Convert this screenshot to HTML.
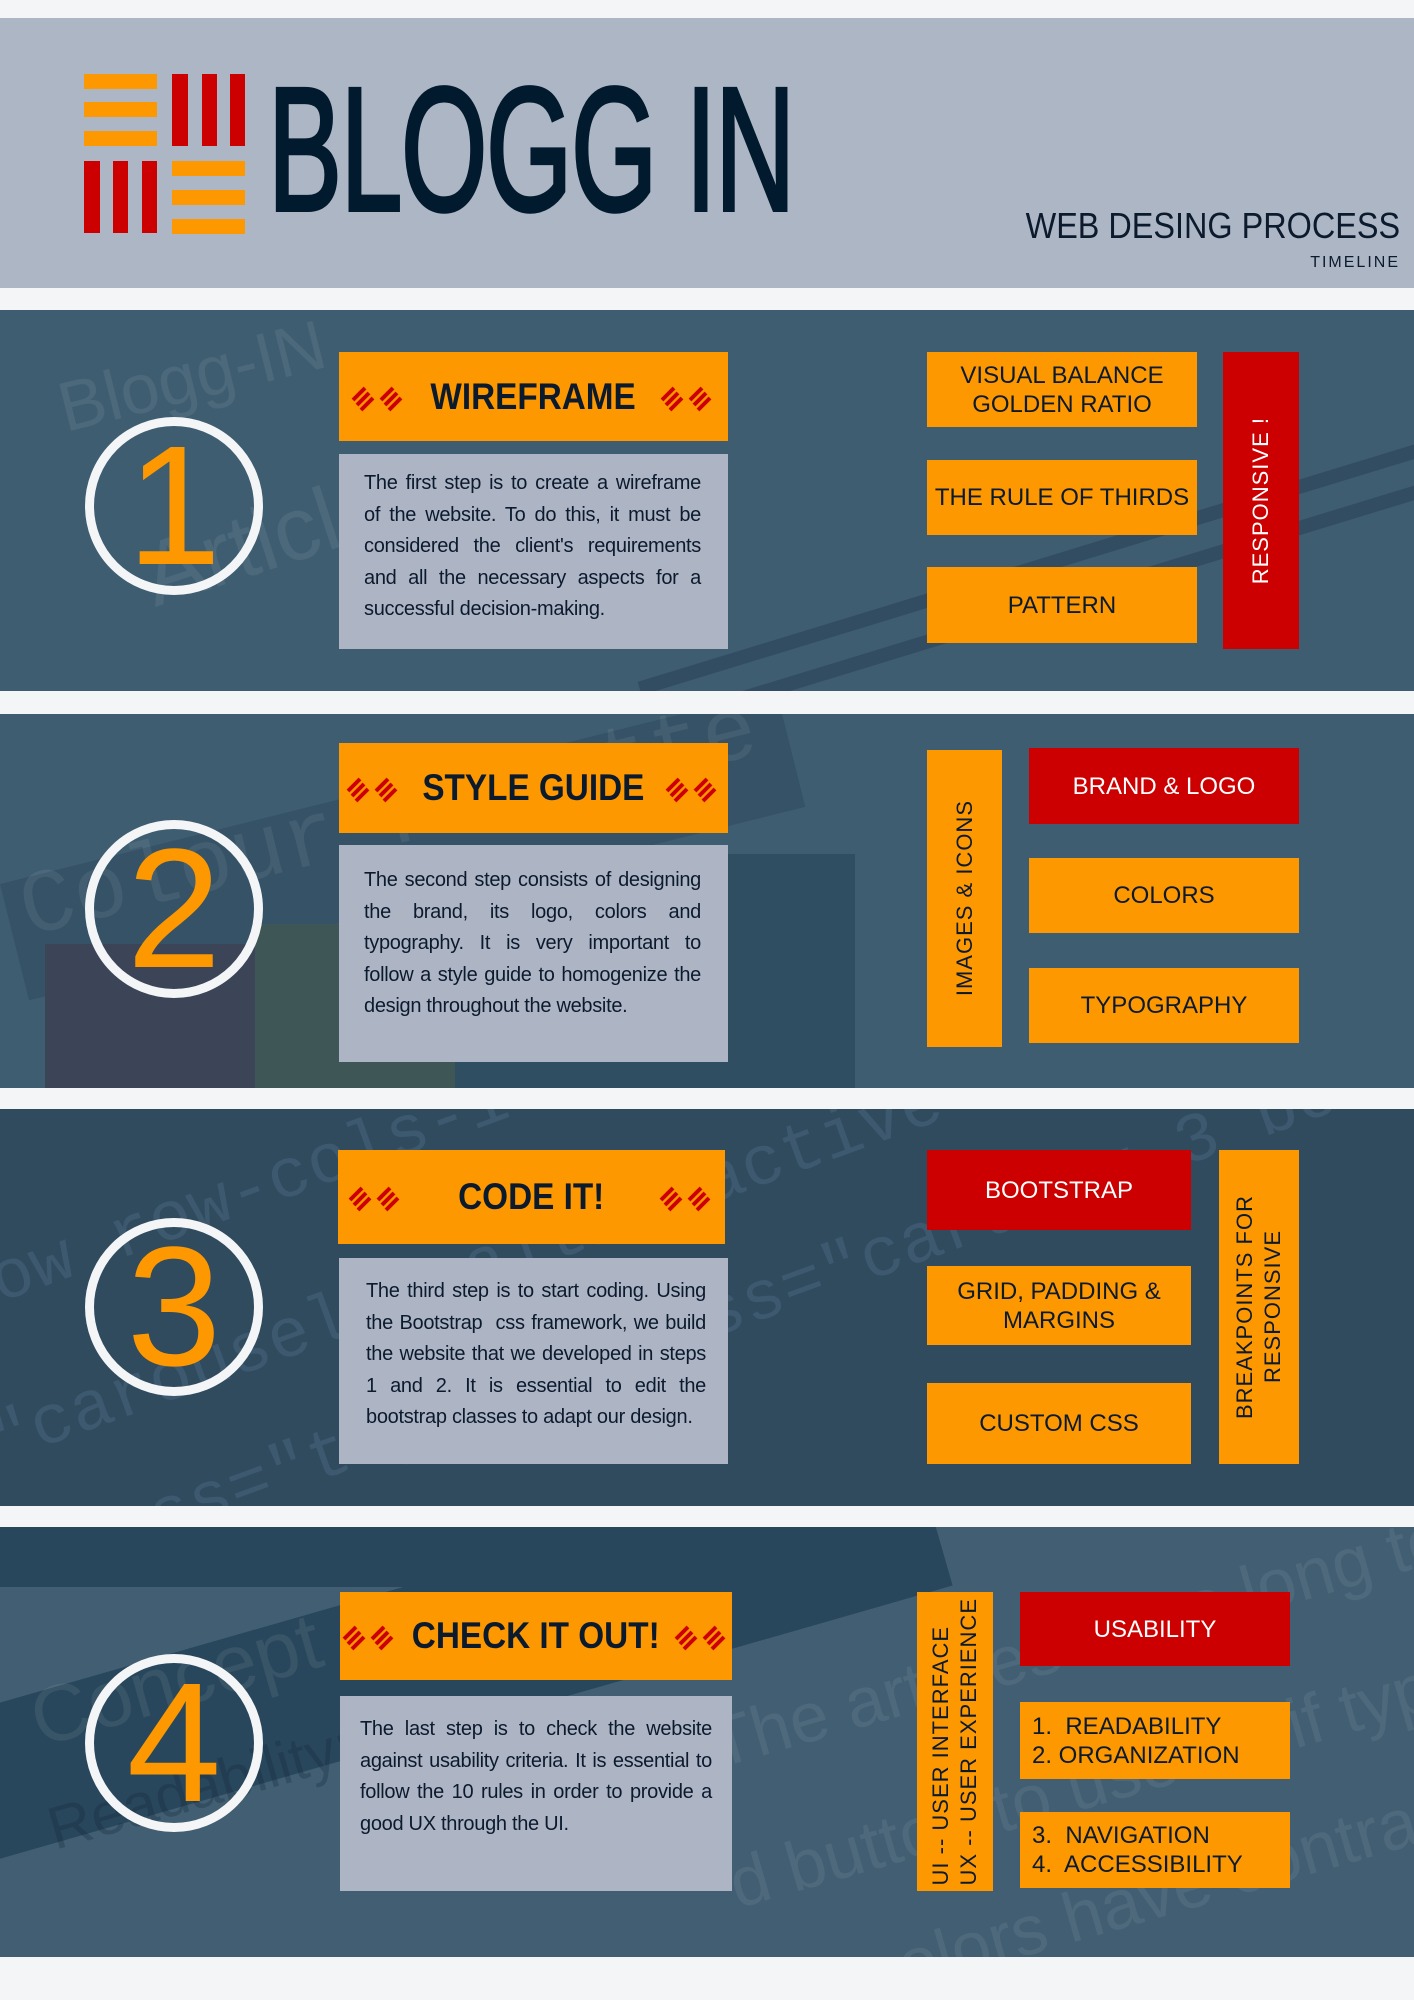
<!DOCTYPE html>
<html><head><meta charset="utf-8"><style>
*{margin:0;padding:0;box-sizing:border-box}
body{width:1414px;height:2000px;background:#f3f5f7;position:relative;overflow:hidden;font-family:"Liberation Sans",sans-serif}
.a{position:absolute}
.hdr{left:0;top:18px;width:1414px;height:270px;background:#adb6c4}
.sec{left:0;width:1414px;overflow:hidden;background:#3f5d71}
.o{background:#fd9800}.r{background:#cc0000}
.bx{display:flex;align-items:center;justify-content:center;text-align:center;font-size:24px;color:#0c1a2e;line-height:29px}
.r.bx{color:#fff}
.ttl{display:flex;align-items:center;justify-content:center;font-weight:bold;font-size:37px;color:#0c1a2e;background:#fd9800;white-space:nowrap}
.ttl span{display:inline-block;transform:scaleX(0.9)}
.txt{background:#adb5c4;color:#0c1a2e;font-size:20px;line-height:31.5px;padding:14px 27px 0 25px;text-align:justify;letter-spacing:-0.3px}
.circ{width:178px;height:178px;border:9px solid #f3f5f7;border-radius:50%;display:flex;align-items:center;justify-content:center;color:#fd9800;font-size:170px;line-height:1}
.vt{writing-mode:vertical-rl;transform:rotate(180deg);font-size:22px;letter-spacing:1px;line-height:28px}
.wm{position:absolute;color:rgba(255,255,255,0.07);font-size:70px;white-space:nowrap;transform-origin:left top}
.ic{display:inline-block;width:56px;height:34px;margin:0 6px;flex:none}
</style></head><body>
<div class="a hdr"></div>
<div class="a o" style="left:84px;top:74px;width:73px;height:15px"></div>
<div class="a o" style="left:84px;top:102px;width:73px;height:15px"></div>
<div class="a o" style="left:84px;top:131px;width:73px;height:15px"></div>
<div class="a r" style="left:172px;top:74px;width:16px;height:72px"></div>
<div class="a r" style="left:202px;top:74px;width:15px;height:72px"></div>
<div class="a r" style="left:230px;top:74px;width:15px;height:72px"></div>
<div class="a r" style="left:84px;top:161px;width:16px;height:72px"></div>
<div class="a r" style="left:113px;top:161px;width:15px;height:72px"></div>
<div class="a r" style="left:142px;top:161px;width:15px;height:72px"></div>
<div class="a o" style="left:172px;top:161px;width:73px;height:15px"></div>
<div class="a o" style="left:172px;top:190px;width:73px;height:15px"></div>
<div class="a o" style="left:172px;top:219px;width:73px;height:15px"></div>
<div class="a" style="left:268px;top:62px;font-size:176px;line-height:176px;color:#021a2e;transform:scaleX(0.63);transform-origin:left top;letter-spacing:-2px;white-space:nowrap;-webkit-text-stroke:4px #021a2e">BLOGG IN</div>
<div class="a" style="right:14px;top:205px;font-size:36px;color:#0c1a2e;white-space:nowrap;transform:scaleX(0.9);transform-origin:right top">WEB DESING PROCESS</div>
<div class="a" style="right:14px;top:254px;font-size:16px;letter-spacing:2px;color:#0c1a2e">TIMELINE</div>

<svg width="0" height="0" style="position:absolute"><defs>
<g id="st"><g stroke="#cc0000" stroke-width="4"><line x1="2" y1="20" x2="14" y2="8"/><line x1="6" y1="25" x2="18" y2="13"/><line x1="10" y1="30" x2="22" y2="18"/><line x1="30" y1="20" x2="42" y2="8"/><line x1="34" y1="25" x2="46" y2="13"/><line x1="38" y1="30" x2="50" y2="18"/></g></g>
</defs></svg>

<!-- SECTION 1 -->
<div class="a sec" style="top:310px;height:381px">
<div class="wm" style="left:50px;top:60px;transform:rotate(-14deg)">Blogg-IN</div>
<div class="wm" style="left:130px;top:220px;font-size:90px;transform:rotate(-18deg)">Article o</div>
<div class="a" style="left:620px;top:240px;width:900px;height:14px;background:rgba(20,40,60,0.3);transform:rotate(-17deg)"></div>
<div class="a" style="left:640px;top:275px;width:900px;height:14px;background:rgba(20,40,60,0.3);transform:rotate(-17deg)"></div>
</div>
<div class="a circ" style="left:85px;top:417px">1</div>
<div class="a ttl" style="left:339px;top:352px;width:389px;height:89px"><svg class="ic" viewBox="0 0 56 34"><use href="#st"/></svg><span style="margin:0 6px">WIREFRAME</span><svg class="ic" viewBox="0 0 56 34"><use href="#st"/></svg></div>
<div class="a txt" style="left:339px;top:454px;width:389px;height:195px">The first step is to create a wireframe of the website. To do this, it must be considered the client's requirements and all the necessary aspects for a successful decision-making.</div>
<div class="a o bx" style="left:927px;top:352px;width:270px;height:75px">VISUAL BALANCE<br>GOLDEN RATIO</div>
<div class="a o bx" style="left:927px;top:460px;width:270px;height:75px">THE RULE OF THIRDS</div>
<div class="a o bx" style="left:927px;top:567px;width:270px;height:76px">PATTERN</div>
<div class="a r bx" style="left:1223px;top:352px;width:76px;height:297px"><span class="vt" style="color:#fff">RESPONSIVE !</span></div>

<!-- SECTION 2 -->
<div class="a sec" style="top:714px;height:374px">
<div class="a" style="left:0;width:800px;height:120px;background:rgba(30,55,75,0.3);transform:rotate(-14deg);transform-origin:left top;top:170px"></div>
<div class="wm" style="left:10px;top:150px;font-size:90px;transform:rotate(-14deg);font-family:'Liberation Mono',monospace">Colour Palette</div>
<div class="a" style="left:45px;top:230px;width:210px;height:150px;background:#3b4557"></div>
<div class="a" style="left:255px;top:210px;width:200px;height:170px;background:#3f5656"></div>
<div class="a" style="left:455px;top:140px;width:400px;height:240px;background:#2f4e62"></div>
</div>
<div class="a circ" style="left:85px;top:820px">2</div>
<div class="a ttl" style="left:339px;top:743px;width:389px;height:90px"><svg class="ic" viewBox="0 0 56 34"><use href="#st"/></svg><span style="margin:0 2px">STYLE GUIDE</span><svg class="ic" viewBox="0 0 56 34"><use href="#st"/></svg></div>
<div class="a txt" style="left:339px;top:845px;width:389px;height:217px;padding-top:20px">The second step consists of designing the brand, its logo, colors and typography. It is very important to follow a style guide to homogenize the design throughout the website.</div>
<div class="a o bx" style="left:927px;top:750px;width:75px;height:297px"><span class="vt">IMAGES &amp; ICONS</span></div>
<div class="a r bx" style="left:1029px;top:748px;width:270px;height:76px">BRAND &amp; LOGO</div>
<div class="a o bx" style="left:1029px;top:858px;width:270px;height:75px">COLORS</div>
<div class="a o bx" style="left:1029px;top:968px;width:270px;height:75px">TYPOGRAPHY</div>

<!-- SECTION 3 -->
<div class="a sec" style="top:1109px;height:397px;background:#304a5e">
<div class="wm" style="left:-20px;top:140px;transform:rotate(-20deg);font-family:'Liberation Mono',monospace;color:rgba(120,160,190,0.18)">ow row-cols-1 row-cols-md-2 col carousel slide</div>
<div class="wm" style="left:-20px;top:300px;transform:rotate(-20deg);font-family:'Liberation Mono',monospace;color:rgba(120,160,190,0.18)">"carousel Health" active"</div>
<div class="wm" style="left:20px;top:420px;transform:rotate(-20deg);font-family:'Liberation Mono',monospace;color:rgba(120,160,190,0.18)">class="topic" class="card mx-3 border-0</div>
</div>
<div class="a circ" style="left:85px;top:1218px">3</div>
<div class="a ttl" style="left:338px;top:1150px;width:387px;height:94px;justify-content:space-between;padding:0 4px"><svg class="ic" viewBox="0 0 56 34"><use href="#st"/></svg><span>CODE IT!</span><svg class="ic" viewBox="0 0 56 34"><use href="#st"/></svg></div>
<div class="a txt" style="left:339px;top:1258px;width:389px;height:206px;padding:18px 22px 0 27px">The third step is to start coding. Using the Bootstrap &nbsp;css framework, we build the website that we developed in steps 1 and 2. It is essential to edit the bootstrap classes to adapt our design.</div>
<div class="a r bx" style="left:927px;top:1150px;width:264px;height:80px">BOOTSTRAP</div>
<div class="a o bx" style="left:927px;top:1266px;width:264px;height:79px">GRID, PADDING &amp;<br>MARGINS</div>
<div class="a o bx" style="left:927px;top:1383px;width:264px;height:81px">CUSTOM CSS</div>
<div class="a o bx" style="left:1219px;top:1150px;width:80px;height:314px"><span class="vt">BREAKPOINTS FOR<br>RESPONSIVE</span></div>

<!-- SECTION 4 -->
<div class="a sec" style="top:1527px;height:430px;background:#415e72">
<div class="a" style="left:-50px;width:1000px;height:150px;background:#29475c;transform:rotate(-16deg);transform-origin:left top;top:190px"></div>
<div class="a" style="left:0;top:0;width:700px;height:60px;background:#29475c"></div>
<div class="wm" style="left:20px;top:150px;font-size:80px;transform:rotate(-16deg)">Concept</div>
<div class="wm" style="left:40px;top:270px;font-size:60px;transform:rotate(-16deg);color:rgba(20,40,60,0.3)">Readability:</div>
<div class="wm" style="left:700px;top:180px;font-size:70px;transform:rotate(-16deg)">The articles have long texts a</div>
<div class="wm" style="left:720px;top:320px;font-size:70px;transform:rotate(-16deg)">d button to use serif type and offe</div>
<div class="wm" style="left:720px;top:450px;font-size:70px;transform:rotate(-16deg)">The colors have contrast</div>
</div>
<div class="a circ" style="left:85px;top:1654px">4</div>
<div class="a ttl" style="left:340px;top:1592px;width:392px;height:88px;justify-content:space-between;padding:0 2px"><svg class="ic" viewBox="0 0 56 34" style="margin:0"><use href="#st"/></svg><span>CHECK IT OUT!</span><svg class="ic" viewBox="0 0 56 34" style="margin:0"><use href="#st"/></svg></div>
<div class="a txt" style="left:340px;top:1696px;width:392px;height:195px;padding:18px 20px 0 20px">The last step is to check the website against usability criteria. It is essential to follow the 10 rules in order to provide a good UX through the UI.</div>
<div class="a o bx" style="left:917px;top:1592px;width:76px;height:299px;justify-content:center"><span class="vt" style="text-align:left">UI -- USER INTERFACE<br>UX -- USER EXPERIENCE</span></div>
<div class="a r bx" style="left:1020px;top:1592px;width:270px;height:74px">USABILITY</div>
<div class="a o bx" style="left:1020px;top:1702px;width:270px;height:77px;justify-content:flex-start;text-align:left;padding-left:12px">1.&nbsp; READABILITY<br>2. ORGANIZATION</div>
<div class="a o bx" style="left:1020px;top:1812px;width:270px;height:76px;justify-content:flex-start;text-align:left;padding-left:12px">3.&nbsp; NAVIGATION<br>4.&nbsp; ACCESSIBILITY</div>
</body></html>
